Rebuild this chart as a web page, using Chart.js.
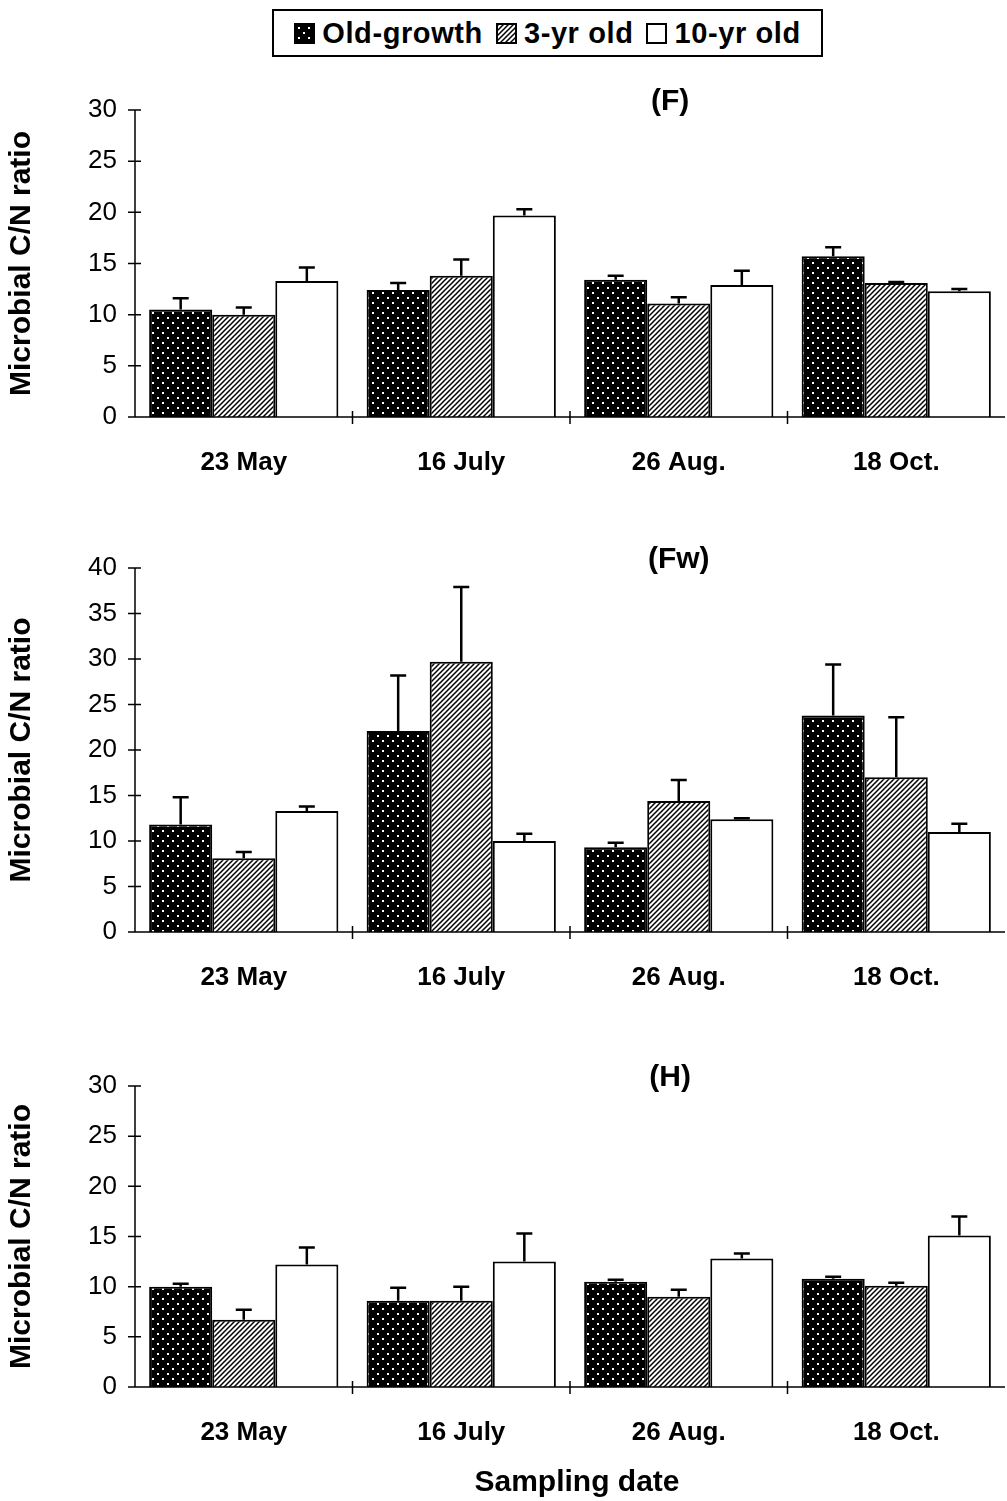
<!DOCTYPE html>
<html>
<head>
<meta charset="utf-8">
<script src="https://cdn.jsdelivr.net/npm/chart.js@4/dist/chart.umd.min.js"></script>
<style>
  body { margin: 0; background: #fff; width: 1007px; height: 1501px; position: relative; overflow: hidden; font-family: "Liberation Sans", Arial, sans-serif; }
  canvas { position: absolute; left: 0; }
  .legend { position: absolute; left: 272px; top: 9px; width: 547px; height: 44px; border: 2px solid #000; font-size: 29px; font-weight: bold; letter-spacing: 0.6px; display: flex; align-items: center; justify-content: center; gap: 13px; white-space: nowrap; }
  .legend span { display: inline-flex; align-items: center; gap: 7px; }
  .legend canvas { position: static; border: 2px solid #000; }
  .xtitle { position: absolute; left: 0; width: 1154px; text-align: center; top: 1464px; font-size: 30px; font-weight: bold; }
</style>
</head>
<body>
<div class="legend">
  <span><canvas id="lg0" width="17" height="17"></canvas>Old-growth</span>
  <span><canvas id="lg1" width="17" height="17"></canvas>3-yr old</span>
  <span><canvas id="lg2" width="17" height="17"></canvas>10-yr old</span>
</div>
<canvas id="c1" width="1007" height="427"></canvas>
<canvas id="c2" width="1007" height="484"></canvas>
<canvas id="c3" width="1007" height="421"></canvas>
<div class="xtitle">Sampling date</div>
<script>
const dates = ['23 May', '16 July', '26 Aug.', '18 Oct.'];
const seriesNames = ['Old-growth', '3-yr old', '10-yr old'];

// (F) layer
const fOld = [10.5, 12.4, 13.4, 15.7];
const f3yr = [10.0, 13.8, 11.1, 13.1];
const f10yr = [13.3, 19.7, 12.9, 12.3];
const fOldErr = [1.1, 0.7, 0.4, 0.9];
const f3yrErr = [0.7, 1.6, 0.6, 0.1];
const f10yrErr = [1.3, 0.6, 1.4, 0.2];

// (Fw) layer
const fwOld = [11.8, 22.1, 9.3, 23.8];
const fw3yr = [8.1, 29.7, 14.4, 17.0];
const fw10yr = [13.3, 10.0, 12.4, 11.0];
const fwOldErr = [3.0, 6.1, 0.5, 5.6];
const fw3yrErr = [0.7, 8.2, 2.3, 6.6];
const fw10yrErr = [0.5, 0.8, 0.1, 0.9];

// (H) layer
const hOld = [10.0, 8.6, 10.5, 10.8];
const h3yr = [6.7, 8.6, 9.0, 10.1];
const h10yr = [12.2, 12.5, 12.8, 15.1];
const hOldErr = [0.3, 1.3, 0.2, 0.2];
const h3yrErr = [1.0, 1.4, 0.7, 0.3];
const h10yrErr = [1.7, 2.8, 0.5, 1.9];

function dotPattern() {
  const p = document.createElement('canvas');
  p.width = 10; p.height = 10;
  const g = p.getContext('2d');
  g.fillStyle = '#000'; g.fillRect(0, 0, 10, 10);
  g.fillStyle = '#fff';
  g.fillRect(2, 2, 2, 2);
  g.fillRect(7, 7, 2, 2);
  return document.createElement('canvas').getContext('2d').createPattern(p, 'repeat');
}
function hatchPattern() {
  const p = document.createElement('canvas');
  p.width = 5; p.height = 5;
  const g = p.getContext('2d');
  g.fillStyle = '#fff'; g.fillRect(0, 0, 5, 5);
  g.strokeStyle = '#000'; g.lineWidth = 1.5;
  g.beginPath();
  g.moveTo(-1, 6); g.lineTo(6, -1);
  g.moveTo(-4, 4); g.lineTo(4, -4);
  g.moveTo(1, 9); g.lineTo(9, 1);
  g.stroke();
  return document.createElement('canvas').getContext('2d').createPattern(p, 'repeat');
}
const fills = [dotPattern(), hatchPattern(), '#fff'];

// legend swatches
['lg0', 'lg1', 'lg2'].forEach((id, i) => {
  const g = document.getElementById(id).getContext('2d');
  g.fillStyle = fills[i]; g.fillRect(0, 0, 17, 17);
});

const errorBars = {
  id: 'errorBars',
  afterDatasetsDraw(chart, args, opts) {
    const ctx = chart.ctx;
    const y = chart.scales.y;
    ctx.save();
    ctx.strokeStyle = '#000';
    ctx.lineWidth = 2.5;
    chart.data.datasets.forEach((ds, di) => {
      chart.getDatasetMeta(di).data.forEach((bar, i) => {
        const top = y.getPixelForValue(ds.data[i] + ds.err[i]);
        ctx.beginPath();
        ctx.moveTo(bar.x, bar.y);
        ctx.lineTo(bar.x, top);
        ctx.moveTo(bar.x - 8, top);
        ctx.lineTo(bar.x + 8, top);
        ctx.stroke();
      });
    });
    ctx.restore();
  }
};

const axisMarks = {
  id: 'axisMarks',
  afterDraw(chart, args, opts) {
    const ctx = chart.ctx;
    const a = chart.chartArea;
    const x = chart.scales.x;
    const y = chart.scales.y;
    ctx.save();
    ctx.strokeStyle = '#000';
    ctx.lineWidth = 1.5;
    ctx.beginPath();
    ctx.moveTo(a.left, a.top); ctx.lineTo(a.left, a.bottom);
    ctx.lineTo(a.right, a.bottom);
    y.ticks.forEach(t => {
      const py = y.getPixelForValue(t.value);
      ctx.moveTo(a.left - 7, py); ctx.lineTo(a.left + 6, py);
    });
    for (let i = 1; i < dates.length; i++) {
      const px = (x.getPixelForValue(i - 1) + x.getPixelForValue(i)) / 2;
      ctx.moveTo(px, a.bottom - 6); ctx.lineTo(px, a.bottom + 7);
    }
    ctx.stroke();
    ctx.fillStyle = '#000';
    ctx.font = 'bold 30px "Liberation Sans", Arial, sans-serif';
    ctx.textAlign = 'center';
    ctx.textBaseline = 'middle';
    ctx.fillText(opts.label, a.left + (a.right - a.left) * opts.pos, a.top - 8);
    ctx.restore();
  }
};

function makeChart(id, top, vals, errs, ymax, label, pos) {
  const el = document.getElementById(id);
  el.style.top = top + 'px';
  new Chart(el, {
    type: 'bar',
    data: {
      labels: dates,
      datasets: vals.map((v, i) => ({
        label: seriesNames[i],
        data: v,
        err: errs[i],
        backgroundColor: fills[i],
        borderColor: '#000',
        borderWidth: 2,
        categoryPercentage: 0.87,
        barPercentage: 1.0
      }))
    },
    options: {
      responsive: false,
      animation: false,
      layout: { padding: { top: 40, right: 2, left: 0, bottom: 0 } },
      plugins: { legend: { display: false }, tooltip: { enabled: false }, axisMarks: { label: label, pos: pos } },
      scales: {
        x: {
          grid: { display: false },
          border: { display: false },
          ticks: { color: '#000', padding: 22, font: { size: 26, weight: 'bold', family: '"Liberation Sans", Arial' } },
          afterFit: s => { s.height = 80; }
        },
        y: {
          min: 0, max: ymax,
          grid: { display: false },
          border: { display: false },
          ticks: { stepSize: 5, color: '#000', padding: 10, font: { size: 26, family: '"Liberation Sans", Arial' } },
          title: { display: true, text: 'Microbial C/N ratio', color: '#000', padding: { top: 4, bottom: 0 }, font: { size: 30, weight: 'bold', family: '"Liberation Sans", Arial' } },
          afterFit: s => { s.width = 135; }
        }
      }
    },
    plugins: [errorBars, axisMarks]
  });
}

makeChart('c1', 70, [fOld, f3yr, f10yr], [fOldErr, f3yrErr, f10yrErr], 30, '(F)', 0.615);
makeChart('c2', 528, [fwOld, fw3yr, fw10yr], [fwOldErr, fw3yrErr, fw10yrErr], 40, '(Fw)', 0.625);
makeChart('c3', 1046, [hOld, h3yr, h10yr], [hOldErr, h3yrErr, h10yrErr], 30, '(H)', 0.615);
</script>
</body>
</html>
